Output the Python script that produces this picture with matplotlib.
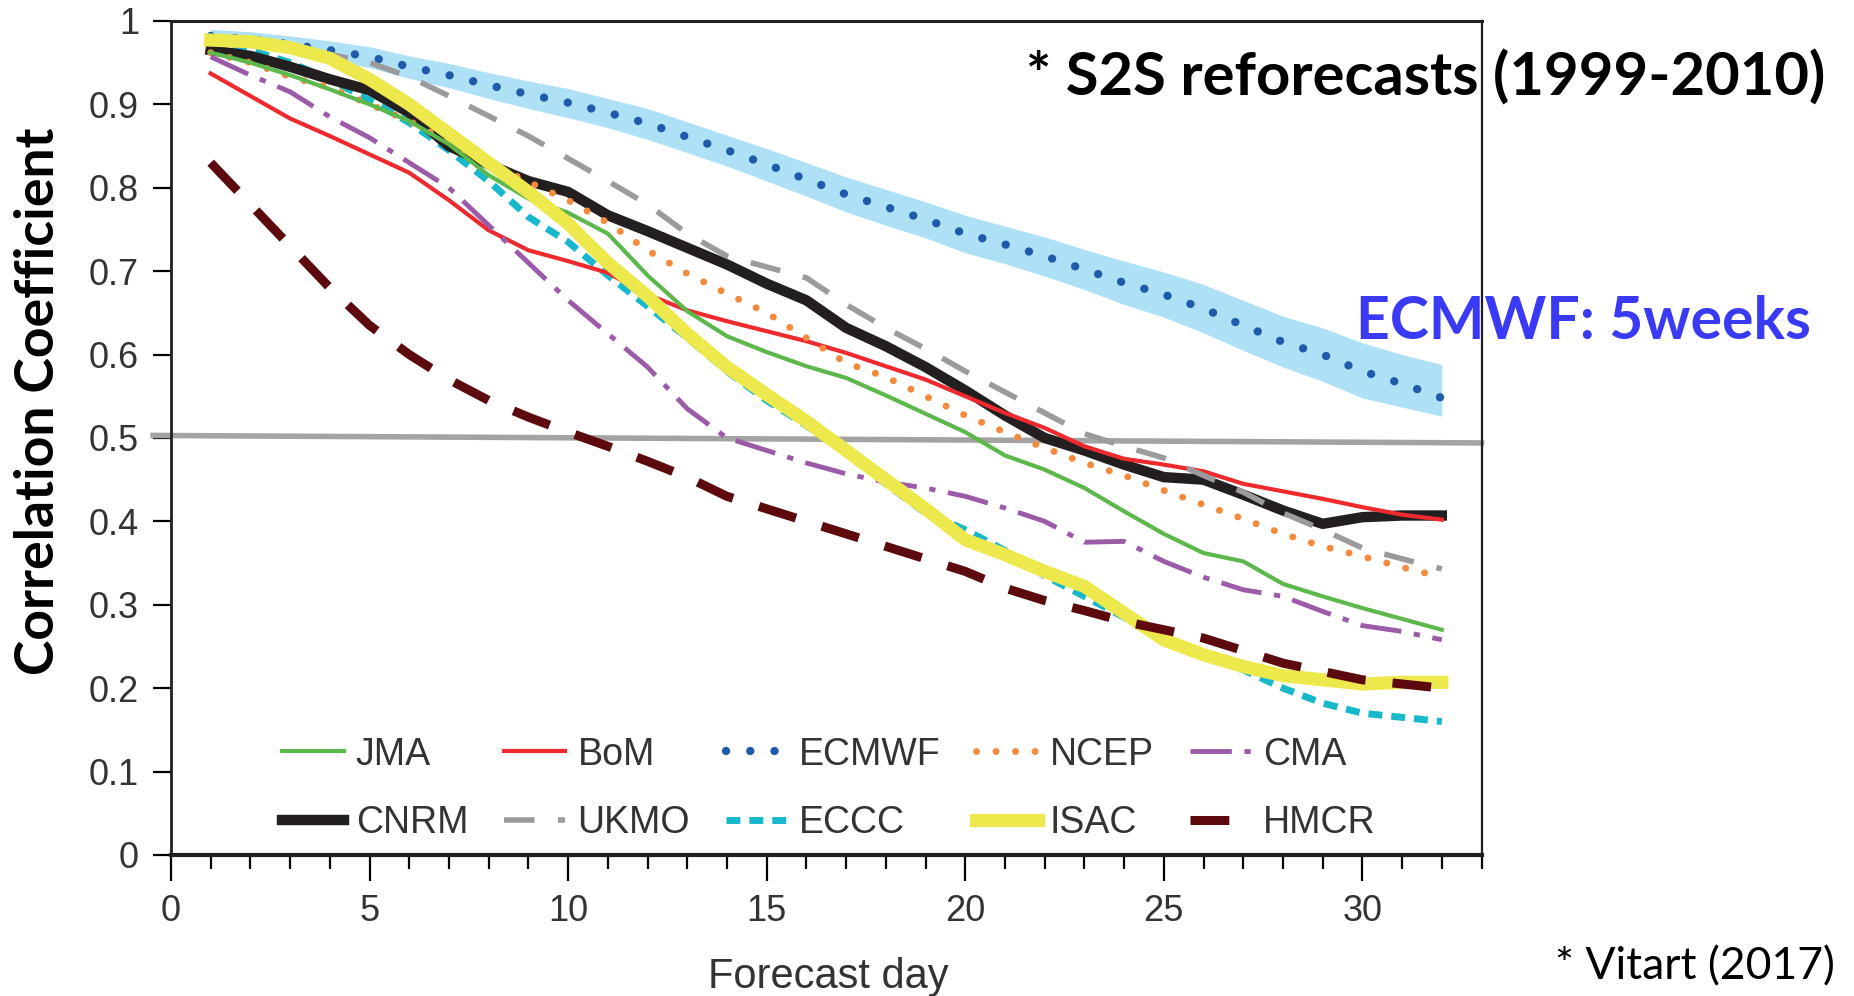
import matplotlib
matplotlib.use('Agg')
import matplotlib.pyplot as plt
import numpy as np
from matplotlib.ticker import FixedLocator, FuncFormatter

# forecast days
days = list(range(1, 33))

# correlation per model
jma = [0.962, 0.95, 0.935, 0.918, 0.90, 0.88, 0.852, 0.815, 0.787, 0.77, 0.745,
       0.695, 0.652, 0.622, 0.603, 0.586, 0.572, 0.551, 0.529, 0.507, 0.479,
       0.462, 0.44, 0.412, 0.385, 0.362, 0.352, 0.325, 0.31, 0.296, 0.283, 0.27]
bom = [0.937, 0.91, 0.883, 0.862, 0.84, 0.818, 0.785, 0.749, 0.725, 0.712,
       0.698, 0.672, 0.653, 0.64, 0.628, 0.616, 0.602, 0.586, 0.57, 0.55, 0.53,
       0.512, 0.49, 0.475, 0.468, 0.46, 0.445, 0.436, 0.427, 0.417, 0.408, 0.402]
ecmwf = [0.982, 0.978, 0.972, 0.965, 0.957, 0.945, 0.935, 0.923, 0.912, 0.902,
         0.89, 0.877, 0.861, 0.845, 0.828, 0.81, 0.792, 0.777, 0.762, 0.745,
         0.732, 0.718, 0.702, 0.686, 0.672, 0.655, 0.635, 0.615, 0.60, 0.58,
         0.565, 0.548]
ecmwf_hi = [0.99, 0.987, 0.982, 0.976, 0.969, 0.958, 0.949, 0.938, 0.928, 0.919,
            0.907, 0.895, 0.879, 0.863, 0.847, 0.83, 0.813, 0.798, 0.783, 0.767,
            0.754, 0.741, 0.726, 0.712, 0.699, 0.684, 0.665, 0.646, 0.632, 0.614,
            0.60, 0.588]
ecmwf_lo = [0.972, 0.968, 0.961, 0.953, 0.944, 0.931, 0.92, 0.907, 0.895, 0.884,
            0.872, 0.858, 0.842, 0.826, 0.808, 0.79, 0.771, 0.755, 0.74, 0.722,
            0.709, 0.694, 0.678, 0.66, 0.645, 0.626, 0.605, 0.585, 0.568, 0.548,
            0.537, 0.526]
ncep = [0.962, 0.95, 0.933, 0.92, 0.90, 0.88, 0.855, 0.83, 0.807, 0.785, 0.758,
        0.725, 0.697, 0.673, 0.65, 0.62, 0.59, 0.573, 0.55, 0.527, 0.507, 0.488,
        0.47, 0.455, 0.437, 0.42, 0.403, 0.385, 0.37, 0.358, 0.345, 0.333]
cma = [0.957, 0.935, 0.915, 0.885, 0.86, 0.83, 0.80, 0.755, 0.71, 0.665, 0.625,
       0.585, 0.535, 0.50, 0.485, 0.47, 0.457, 0.447, 0.44, 0.43, 0.416, 0.40,
       0.375, 0.376, 0.352, 0.333, 0.318, 0.31, 0.292, 0.275, 0.268, 0.258]
cnrm = [0.965, 0.958, 0.945, 0.93, 0.917, 0.89, 0.85, 0.828, 0.808, 0.795, 0.767,
        0.748, 0.728, 0.708, 0.685, 0.665, 0.632, 0.61, 0.585, 0.557, 0.527,
        0.50, 0.485, 0.468, 0.453, 0.45, 0.432, 0.413, 0.397, 0.405, 0.407, 0.407]
ukmo = [0.975, 0.973, 0.968, 0.96, 0.95, 0.933, 0.91, 0.886, 0.862, 0.835, 0.808,
        0.78, 0.745, 0.718, 0.705, 0.692, 0.66, 0.632, 0.607, 0.58, 0.555, 0.53,
        0.505, 0.49, 0.476, 0.455, 0.435, 0.41, 0.39, 0.368, 0.355, 0.343]
eccc = [0.975, 0.965, 0.95, 0.93, 0.905, 0.878, 0.845, 0.808, 0.765, 0.735,
        0.695, 0.658, 0.62, 0.58, 0.545, 0.515, 0.482, 0.445, 0.41, 0.39, 0.365,
        0.335, 0.31, 0.285, 0.26, 0.24, 0.222, 0.20, 0.182, 0.17, 0.165, 0.16]
isac = [0.977, 0.975, 0.968, 0.955, 0.93, 0.90, 0.865, 0.83, 0.795, 0.757, 0.71,
        0.67, 0.625, 0.585, 0.552, 0.52, 0.485, 0.45, 0.415, 0.378, 0.36, 0.34,
        0.322, 0.29, 0.258, 0.24, 0.226, 0.215, 0.21, 0.205, 0.207, 0.207]
hmcr = [0.83, 0.78, 0.73, 0.68, 0.635, 0.60, 0.57, 0.545, 0.525, 0.507, 0.49,
        0.472, 0.453, 0.43, 0.415, 0.40, 0.385, 0.37, 0.355, 0.34, 0.32, 0.305,
        0.293, 0.28, 0.27, 0.26, 0.245, 0.23, 0.22, 0.21, 0.205, 0.20]

# 0.5 reference line (slightly tilted in the original)
ref_x = [-0.45, 33]
ref_y = [0.503, 0.494]

y_ticks = [0, 0.1, 0.2, 0.3, 0.4, 0.5, 0.6, 0.7, 0.8, 0.9, 1]
x_ticks = [0, 5, 10, 15, 20, 25, 30]

TICK_FONT = 'Liberation Sans'
NOTE_FONT = 'Lato'


def main():
    fig = plt.figure(figsize=(18.54, 9.96), dpi=100)
    ax = fig.add_axes([0.0922, 0.1416, 0.7069, 0.8374])

    ax.fill_between(days, ecmwf_lo, ecmwf_hi, color='#AEE0F6', lw=0, zorder=1)
    ax.plot(ref_x, ref_y, color='#A3A3A3', lw=4, clip_on=False, zorder=2)

    l_ecmwf, = ax.plot(days, ecmwf, color='#1F5BAA', lw=6, ls=(0, (0.01, 2.9)),
                       dash_capstyle='round', label='ECMWF', zorder=3)
    l_eccc, = ax.plot(days, eccc, color='#17B8CB', lw=5, ls=(0, (2.0, 1.3)),
                      label='ECCC', zorder=3)
    l_cnrm, = ax.plot(days, cnrm, color='#231F20', lw=7.5, label='CNRM', zorder=4)
    l_bom, = ax.plot(days, bom, color='#EE2A2F', lw=3, label='BoM', zorder=4)
    l_ncep, = ax.plot(days, ncep, color='#F58A3C', lw=5, ls=(0, (0.01, 2.8)),
                      dash_capstyle='round', label='NCEP', zorder=5)
    l_jma, = ax.plot(days, jma, color='#5CB84B', lw=3, label='JMA', zorder=5)
    l_cma, = ax.plot(days, cma, color='#9B5BA8', lw=3.5,
                     ls=(0, (8.5, 2.6, 1.3, 2.6)), label='CMA', zorder=5)
    l_ukmo, = ax.plot(days, ukmo, color='#9B9B9D', lw=4, ls=(0, (5.5, 4.2)),
                      label='UKMO', zorder=6)
    l_isac, = ax.plot(days, isac, color='#EDE84B', lw=9.5, label='ISAC', zorder=6)
    l_hmcr, = ax.plot(days, hmcr, color='#5C0A0E', lw=6.5, ls=(0, (4.3, 3.0)),
                      label='HMCR', zorder=7)

    # axes styling
    ax.set_xlim(0, 33)
    ax.set_ylim(0, 1)
    ax.xaxis.set_major_locator(FixedLocator(x_ticks))
    ax.xaxis.set_minor_locator(FixedLocator(range(0, 34)))
    ax.yaxis.set_major_locator(FixedLocator(y_ticks))
    ax.yaxis.set_major_formatter(FuncFormatter(lambda v, p: '%g' % v))
    ax.tick_params(axis='x', which='major', direction='out', length=19, width=1.6,
                   pad=9, labelsize=26, labelcolor='#333333')
    ax.tick_params(axis='x', which='minor', direction='out', length=10, width=1.6)
    ax.tick_params(axis='y', direction='out', length=13, width=1.6, pad=10,
                   labelsize=26, labelcolor='#333333')
    for lab in ax.get_xticklabels() + ax.get_yticklabels():
        lab.set_fontfamily(TICK_FONT)
    for side, w in [('left', 2), ('bottom', 3), ('top', 2.2), ('right', 1.6)]:
        ax.spines[side].set_linewidth(w)
        ax.spines[side].set_color('#231F20')

    handles = [l_jma, l_cnrm, l_bom, l_ukmo, l_ecmwf, l_eccc,
               l_ncep, l_isac, l_cma, l_hmcr]
    ax.legend(handles=handles, ncol=5, loc='lower left',
              bbox_to_anchor=(0.085, 0.017), frameon=False,
              prop={'family': TICK_FONT, 'size': 27}, labelcolor='#333333',
              handlelength=1.64, handletextpad=0.32, columnspacing=0.95,
              labelspacing=0.86, borderpad=0, borderaxespad=0)

    fig.text(0.4466, 0.039, 'Forecast day', family=TICK_FONT, size=30,
             color='#333333', ha='center', va='top')
    fig.text(0.0205, 0.597, 'Correlation Coefficient', family=NOTE_FONT,
             weight='bold', size=38.5, rotation=90, ha='center', va='center')
    fig.text(0.5535, 0.922, '* S2S reforecasts (1999-2010)', family=NOTE_FONT,
             weight='bold', size=43, ha='left', va='center')
    fig.text(0.7315, 0.677, 'ECMWF: 5weeks', family=NOTE_FONT, weight='bold',
             size=42.4, color='#3A3AF5', ha='left', va='center')
    fig.text(0.8387, 0.029, '* Vitart (2017)', family=NOTE_FONT, size=32,
             ha='left', va='center')

    fig.savefig('out.png', dpi=100)


if __name__ == '__main__':
    main()
